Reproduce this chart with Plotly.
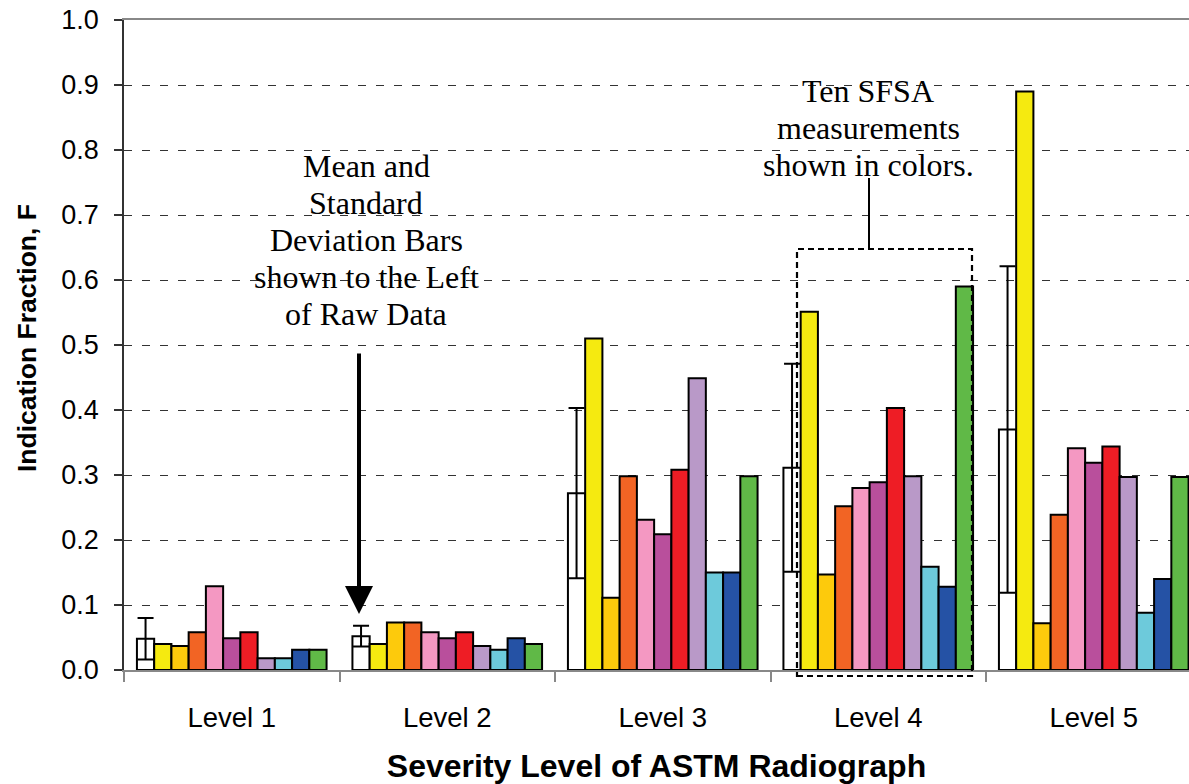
import plotly.graph_objects as go

# Severity levels of the ASTM reference radiographs
levels = ["Level 1", "Level 2", "Level 3", "Level 4", "Level 5"]

# Mean indication fraction and its standard deviation per level
mean_f = [0.048, 0.052, 0.272, 0.311, 0.370]
std_f = [0.032, 0.016, 0.131, 0.160, 0.251]

# Ten individual SFSA measurements per level
meas_1 = [0.040, 0.040, 0.510, 0.551, 0.890]
meas_2 = [0.037, 0.073, 0.111, 0.147, 0.072]
meas_3 = [0.058, 0.073, 0.298, 0.252, 0.239]
meas_4 = [0.129, 0.058, 0.231, 0.280, 0.341]
meas_5 = [0.049, 0.049, 0.209, 0.289, 0.319]
meas_6 = [0.058, 0.058, 0.308, 0.403, 0.344]
meas_7 = [0.018, 0.037, 0.449, 0.298, 0.297]
meas_8 = [0.018, 0.031, 0.150, 0.159, 0.088]
meas_9 = [0.031, 0.049, 0.150, 0.128, 0.140]
meas_10 = [0.031, 0.040, 0.298, 0.590, 0.297]

measurements = [meas_1, meas_2, meas_3, meas_4, meas_5,
                meas_6, meas_7, meas_8, meas_9, meas_10]
colors = ["#F5EA10", "#FDCA0C", "#F26424", "#F498C2", "#B94F9C",
          "#EE1D25", "#B999C8", "#6DCADB", "#2552A5", "#60B947"]

SANS = "Arial, Liberation Sans, sans-serif"
SERIF = "Liberation Serif, Times New Roman, serif"
OUTLINE = dict(color="black", width=2)

fig = go.Figure()

# Mean bar with standard-deviation whiskers, left of the raw data
fig.add_trace(go.Bar(
    x=levels, y=mean_f, name="Mean",
    marker=dict(color="white", line=OUTLINE),
    error_y=dict(type="data", array=std_f, symmetric=True,
                 color="black", thickness=2, width=8),
))

for i, (vals, col) in enumerate(zip(measurements, colors), start=1):
    fig.add_trace(go.Bar(
        x=levels, y=vals, name=f"Measurement {i}",
        marker=dict(color=col, line=OUTLINE),
    ))

# Plot area spans x = 124..1189 px and y = 20..670 px
L, R, T, B = 124, 1189, 20, 670


def px(xp):
    return (xp - L) / (R - L)


def py(yp):
    return (B - yp) / (B - T)


fig.update_layout(
    width=1189, height=784,
    margin=dict(l=L, r=1189 - R, t=T, b=784 - B),
    paper_bgcolor="white", plot_bgcolor="white",
    barmode="group", bargap=0.12, bargroupgap=0.0,
    showlegend=False,
    font=dict(family=SANS, color="black"),
    xaxis=dict(
        range=[-0.5, -0.5 + (R - L) / 215.5],
        tickson="boundaries", ticks="outside", ticklen=10,
        tickcolor="#888888", tickwidth=1.5,
        showline=True, linecolor="#888888", linewidth=1.5, mirror=True,
        showgrid=False,
        tickfont=dict(size=27.5, family=SANS),
        ticklabelstandoff=22,
        title=dict(text="<b>Severity Level of ASTM Radiograph</b>",
                   font=dict(size=32, family=SANS), standoff=28),
    ),
    yaxis=dict(
        range=[0, 1.0], dtick=0.1, tickformat=".1f",
        ticks="outside", ticklen=8, tickcolor="#333333", tickwidth=1.5,
        showline=True, linecolor="#333333", linewidth=1.5,
        showgrid=True, gridcolor="#333333", gridwidth=1.3,
        griddash="8px,10px",
        zeroline=False,
        tickfont=dict(size=27, family=SANS),
        ticklabelstandoff=10,
    ),
)

# Y-axis title
fig.add_annotation(
    xref="paper", yref="paper", x=px(27), y=py(338),
    text="<b>Indication Fraction, F</b>", textangle=-90,
    showarrow=False, font=dict(family=SANS, size=26.5, color="black"),
    xanchor="center", yanchor="middle",
)


def add_note(lines, x_center, y_first, step=37):
    """Centred multi-line serif note with tight line spacing."""
    for k, line in enumerate(lines):
        fig.add_annotation(
            xref="paper", yref="paper", x=px(x_center), y=py(y_first + k * step),
            text=line, showarrow=False,
            font=dict(family=SERIF, size=32, color="black"),
            xanchor="center", yanchor="middle",
        )


add_note(["Mean and", "Standard", "Deviation Bars",
          "shown to the Left", "of Raw Data"], 366, 166)
add_note(["Ten SFSA", "measurements", "shown in colors."], 868, 91)

# Arrow pointing at the Level 2 mean bar
fig.add_annotation(
    xref="paper", yref="paper", x=px(359), y=py(614),
    ax=0, ay=-(614 - 352), text="",
    showarrow=True, arrowhead=2, arrowsize=1.4, arrowwidth=4,
    arrowcolor="black",
)

# Dashed frame around the Level 4 measurements and its leader line
fig.add_shape(
    type="rect", xref="paper", yref="paper",
    x0=px(797), x1=px(972), y0=py(676), y1=py(249),
    line=dict(color="black", width=2.2, dash="6px,4px"),
    fillcolor="rgba(0,0,0,0)", layer="above",
)
fig.add_shape(
    type="line", xref="paper", yref="paper",
    x0=px(869), x1=px(869), y0=py(249), y1=py(178),
    line=dict(color="black", width=2),
)

fig.write_html("out.html")
